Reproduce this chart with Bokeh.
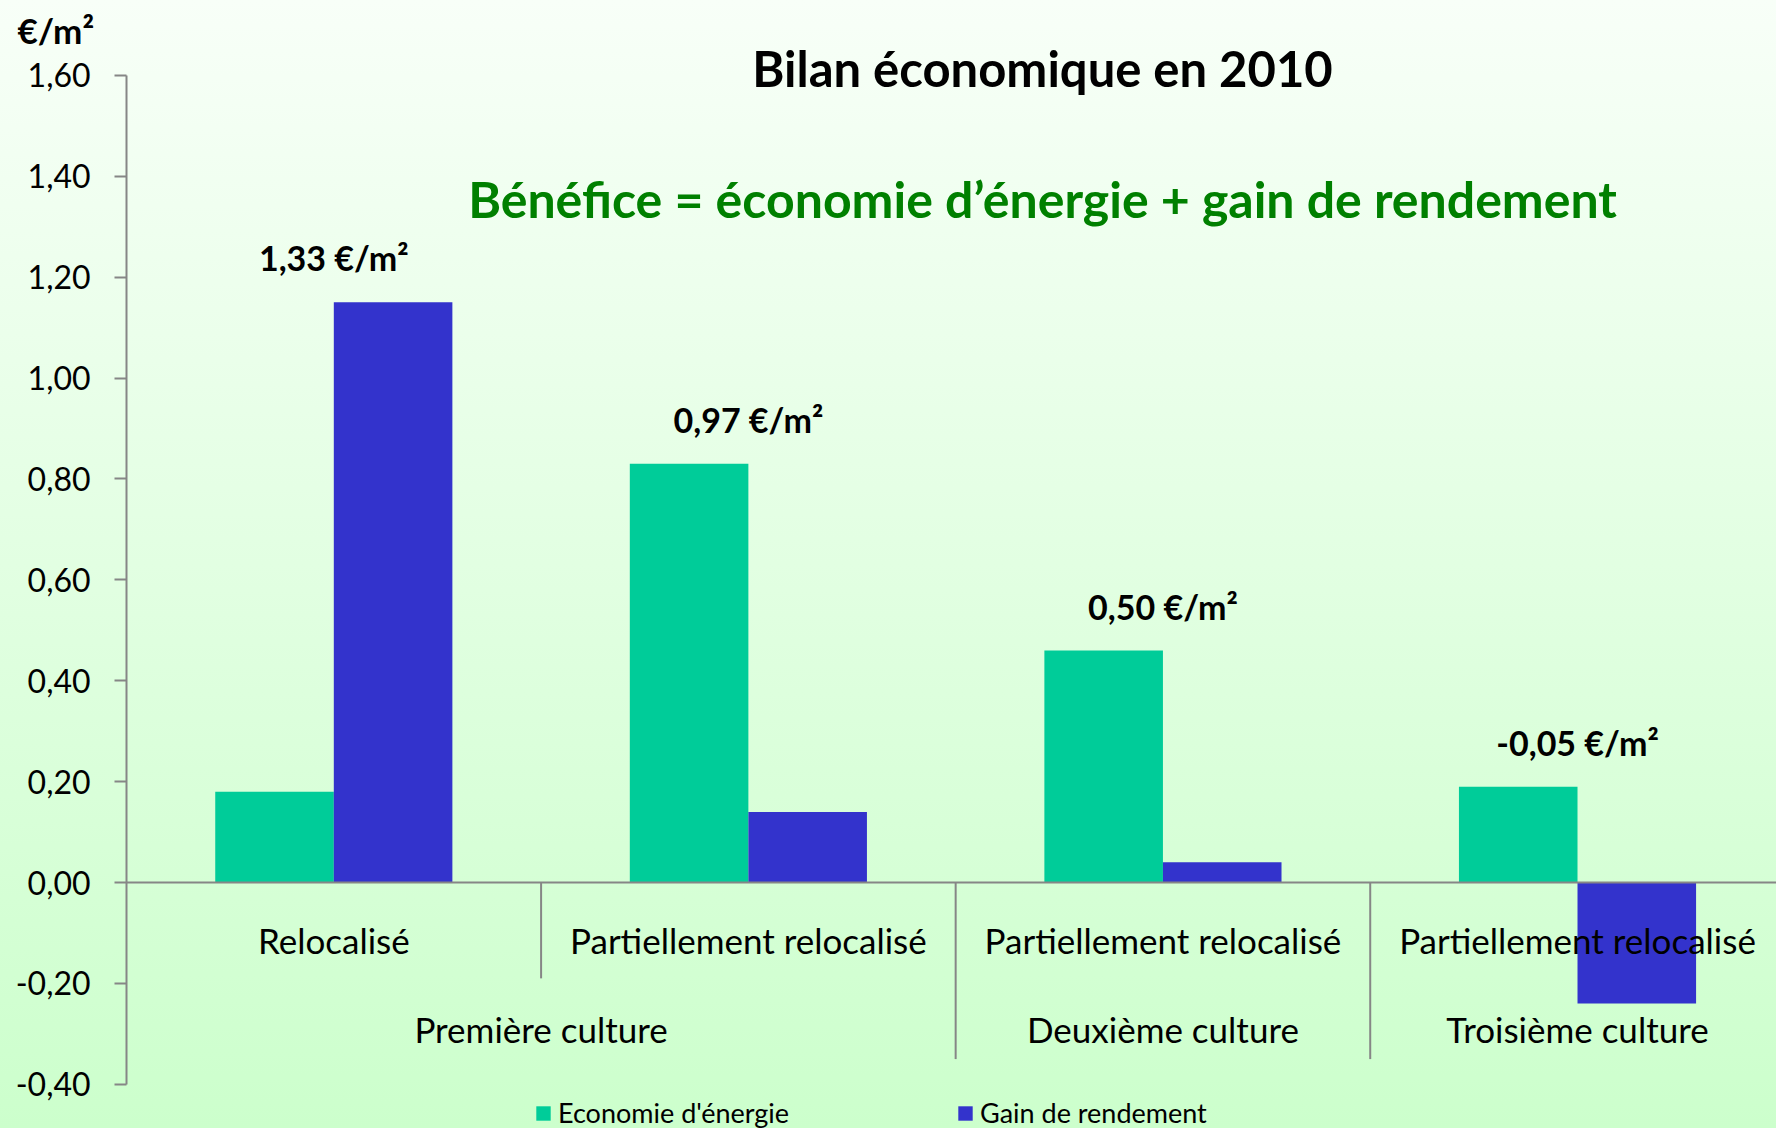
from bokeh.plotting import figure
from bokeh.models import (ColumnDataSource, Range1d, FixedTicker, LinearAxis,
                          CustomJSTickFormatter, Label, Legend, LegendItem,
                          GlobalInlineStyleSheet)
from bokeh.transform import dodge
from bokeh.core.properties import value
from bokeh.embed import file_html
from bokeh.resources import INLINE

# ---------------- data ----------------
cultures = ["Première culture", "Première culture", "Deuxième culture", "Troisième culture"]
modes = ["Relocalisé", "Partiellement relocalisé", "Partiellement relocalisé", "Partiellement relocalisé"]
economie_energie = [0.18, 0.83, 0.46, 0.19]
gain_rendement = [1.15, 0.14, 0.04, -0.24]
series_names = ["Economie d'énergie", "Gain de rendement"]
y_ticks = [-0.40, -0.20, 0.00, 0.20, 0.40, 0.60, 0.80, 1.00, 1.20, 1.40, 1.60]
title_text = "Bilan économique en 2010"
subtitle_text = "Bénéfice = économie d’énergie + gain de rendement"
unit_text = "€/m²"

# ---------------- derived ----------------
n = len(modes)
cat_x = [i + 0.5 for i in range(n)]
totals = [a + b for a, b in zip(economie_energie, gain_rendement)]
total_labels = [f"{t:.2f}".replace(".", ",").replace("-0,00", "0,00") + " €/m²" for t in totals]
label_off = 0.088
label_y = [max(a, b) + label_off for a, b in zip(economie_energie, gain_rendement)]
group_names = list(dict.fromkeys(cultures))
group_x = [sum(x for x, c in zip(cat_x, cultures) if c == g) / cultures.count(g) for g in group_names]
sep_x = list(range(1, n))
sep_y = [-0.19 if cultures[i] == cultures[i - 1] else -0.35 for i in range(1, n)]

FONT = "Lato"
GREEN = "#00CC99"
BLUE = "#3333CC"
GRAY = "#868686"
W, H = 1776, 1128

p = figure(
    x_range=Range1d(-0.304, 3.98),
    y_range=Range1d(-0.4876, 1.7483),
    width=W, height=H,
    output_backend="svg", toolbar_location=None,
    x_axis_location=None, y_axis_location=None,
    min_border_left=0, min_border_right=0, min_border_top=0, min_border_bottom=0,
    background_fill_color=None, border_fill_color=None, outline_line_color=None,
)
p.stylesheets = [GlobalInlineStyleSheet(css="html{min-height:100%;background:linear-gradient(to bottom,#F8FFF8 0%,#CCFFCC 100%);} body{background:transparent;}")]
p.grid.visible = False

# y axis drawn at the left edge of the first category
ya = LinearAxis(fixed_location=0)
ya.ticker = FixedTicker(ticks=y_ticks, minor_ticks=[])
ya.formatter = CustomJSTickFormatter(code="const v = Math.abs(tick) < 1e-9 ? 0 : tick; return v.toFixed(2).replace('.', ',');")
ya.bounds = (y_ticks[0], y_ticks[-1])
ya.axis_line_color = GRAY
ya.axis_line_width = 2
ya.major_tick_line_color = GRAY
ya.major_tick_line_width = 2
ya.major_tick_out = 12
ya.major_tick_in = 0
ya.minor_tick_out = 0
ya.minor_tick_in = 0
ya.major_label_standoff = 24
ya.major_label_text_font = FONT
ya.major_label_text_font_size = "32px"
ya.major_label_text_color = "black"
p.add_layout(ya, "left")

src = ColumnDataSource(dict(x=cat_x, eco=economie_energie, gain=gain_rendement,
                            mode=modes, total=total_labels, ly=label_y))

r1 = p.vbar(x=dodge("x", -0.143), top="eco", bottom=0, width=0.286,
            fill_color=GREEN, line_color=None, source=src)
r2 = p.vbar(x=dodge("x", 0.143), top="gain", bottom=0, width=0.286,
            fill_color=BLUE, line_color=None, source=src)

# category axis line at zero
p.segment(x0=0, y0=0, x1=n, y1=0, line_color=GRAY, line_width=2)

# separators between categories (short) and between cultures (long)
sep_src = ColumnDataSource(dict(x=sep_x, y1=sep_y))
p.segment(x0="x", y0=0, x1="x", y1="y1", line_color=GRAY, line_width=2, source=sep_src)

# category labels
p.text(x="x", y=-0.114, text="mode", source=src, text_align="center", text_baseline="middle",
       text_font=value(FONT), text_font_size="35px", text_color="black")
grp_src = ColumnDataSource(dict(x=group_x, t=group_names))
p.text(x="x", y=-0.29, text="t", source=grp_src, text_align="center", text_baseline="middle",
       text_font=value(FONT), text_font_size="35px", text_color="black")

# totals above each category
p.text(x="x", y="ly", text="total", source=src, text_align="center", text_baseline="middle",
       text_font=value(FONT), text_font_style="bold", text_font_size="34px", text_color="black")

# titles
p.add_layout(Label(x=1042, y=H - 67, x_units="screen", y_units="screen", text=title_text,
                   text_align="center", text_baseline="middle", text_font=FONT,
                   text_font_style="bold", text_font_size="49px", text_color="black"))
p.add_layout(Label(x=1042, y=H - 198, x_units="screen", y_units="screen", text=subtitle_text,
                   text_align="center", text_baseline="middle", text_font=FONT,
                   text_font_style="bold", text_font_size="50px", text_color="#008000"))
p.add_layout(Label(x=17, y=H - 29, x_units="screen", y_units="screen", text=unit_text,
                   text_align="left", text_baseline="middle", text_font=FONT,
                   text_font_style="bold", text_font_size="35px", text_color="black"))

legend = Legend(items=[LegendItem(label=series_names[0], renderers=[r1]),
                       LegendItem(label=series_names[1], renderers=[r2])],
                orientation="horizontal", location=(534, -1),
                glyph_width=18, glyph_height=18, label_standoff=6, label_width=240, spacing=158,
                label_text_font=FONT, label_text_font_size="27px", label_text_color="black",
                padding=0, margin=0, border_line_color=None, background_fill_alpha=0)
p.add_layout(legend)

open("out.html", "w").write(file_html(p, INLINE))
